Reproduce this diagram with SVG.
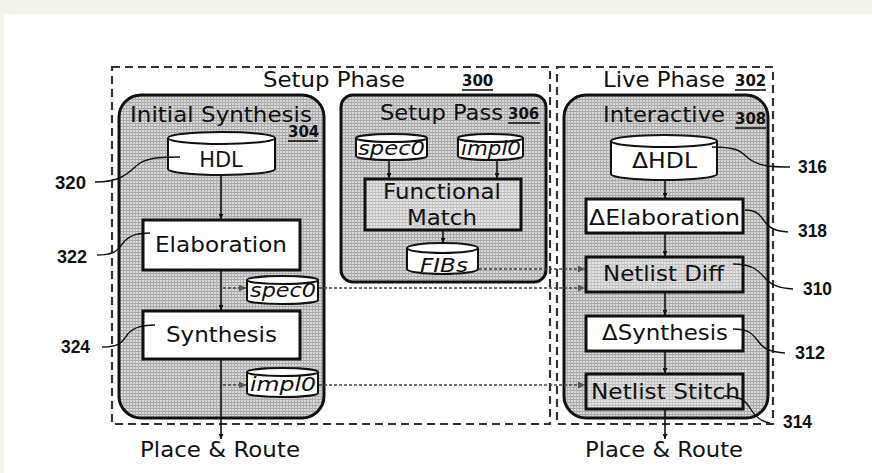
<svg xmlns="http://www.w3.org/2000/svg" width="872" height="473" viewBox="0 0 872 473">
  <defs>
    <pattern id="grid" width="3" height="3" patternUnits="userSpaceOnUse">
      <rect width="3" height="3" fill="#d8d8d8"/>
      <rect width="3" height="1" fill="#a6a6a6"/>
      <rect width="1" height="3" fill="#b0b0b0"/>
    </pattern>
    <pattern id="gridLight" width="3" height="3" patternUnits="userSpaceOnUse">
      <rect width="3" height="3" fill="#e2e2e2"/>
      <rect width="3" height="1" fill="#bdbdbd"/>
      <rect width="1" height="3" fill="#c6c6c6"/>
    </pattern>
    <marker id="arr" viewBox="0 0 10 10" refX="10" refY="5" markerWidth="5" markerHeight="5" orient="auto" markerUnits="userSpaceOnUse">
      <path d="M0,0 L10,5 L0,10 z" fill="#111"/>
    </marker>
    <marker id="arrG" viewBox="0 0 10 10" refX="10" refY="5" markerWidth="9" markerHeight="7" orient="auto" markerUnits="userSpaceOnUse">
      <path d="M0,0 L10,5 L0,10 z" fill="#555"/>
    </marker>
  </defs>
  <style>
    .t { font-family: "DejaVu Sans", "Liberation Sans", sans-serif; font-size: 21px; fill: #111; }
    .ti { font-family: "DejaVu Sans", "Liberation Sans", sans-serif; font-size: 20px; font-style: italic; fill: #111; }
    .num { font-family: "DejaVu Sans", sans-serif; font-weight: bold; font-size: 15px; fill: #111; }
    .ref { font-family: "Liberation Sans", Arial, sans-serif; font-weight: bold; font-size: 19px; fill: #111; }
    .phase { fill: none; stroke: #333; stroke-width: 2.2; stroke-dasharray: 8 5; }
    .group { fill: url(#grid); stroke: #111; stroke-width: 3; }
    .box { fill: #fff; stroke: #111; stroke-width: 3; }
    .boxg { fill: url(#gridLight); stroke: #111; stroke-width: 3; }
    .cyl { fill: #fff; stroke: #111; stroke-width: 2; }
    .flow { fill: none; stroke: #111; stroke-width: 1.6; marker-end: url(#arr); }
    .data { fill: none; stroke: #444; stroke-width: 1.6; stroke-dasharray: 3 2; marker-end: url(#arrG); }
    .lead { fill: none; stroke: #111; stroke-width: 1.4; }
    .ul { stroke: #111; stroke-width: 1.6; }
  </style>

  <!-- page frame -->
  <rect x="0" y="0" width="872" height="473" fill="#fff"/>
  <rect x="0" y="0" width="872" height="14" fill="#f3f2ea"/>
  <rect x="0" y="0" width="4" height="473" fill="#f3f2ea"/>

  <!-- phase regions -->
  <g id="setup-phase">
    <rect class="phase" x="112" y="67" width="438" height="357"/>
    <text class="t" x="263" y="87" textLength="142" lengthAdjust="spacingAndGlyphs">Setup Phase</text>
    <text class="num" x="462" y="86">300</text>
    <line class="ul" x1="462" y1="90" x2="493" y2="90"/>
  </g>
  <g id="live-phase">
    <rect class="phase" x="557" y="67" width="216" height="357"/>
    <text class="t" x="603" y="87" textLength="122" lengthAdjust="spacingAndGlyphs">Live Phase</text>
    <text class="num" x="735" y="86">302</text>
    <line class="ul" x1="735" y1="90" x2="766" y2="90"/>
  </g>

  <!-- Initial Synthesis -->
  <g id="initial-synthesis">
    <rect class="group" x="119" y="95" width="205" height="323" rx="22"/>
    <text class="t" x="130" y="122" textLength="182" lengthAdjust="spacingAndGlyphs">Initial Synthesis</text>
    <text class="num" x="288" y="137">304</text>
    <line class="ul" x1="288" y1="141" x2="318" y2="141"/>
  </g>
  <g id="hdl">
    <path class="cyl" d="M168,138 L168,169 A53.5,6 0 0 0 275,169 L275,138 A53.5,6 0 0 0 168,138 A53.5,6 0 0 0 275,138"/>
    <text class="t" x="221" y="167" text-anchor="middle">HDL</text>
  </g>
  <g id="elaboration">
    <rect class="box" x="143" y="220" width="157" height="50"/>
    <text class="t" x="155" y="252" textLength="132" lengthAdjust="spacingAndGlyphs">Elaboration</text>
  </g>
  <g id="spec0-out">
    <path class="cyl" d="M247,280 L247,300 A35.5,4 0 0 0 318,300 L318,280 A35.5,4 0 0 0 247,280 A35.5,4 0 0 0 318,280"/>
    <text class="ti" x="250" y="297" textLength="66" lengthAdjust="spacingAndGlyphs">spec0</text>
  </g>
  <g id="synthesis">
    <rect class="box" x="143" y="311" width="157" height="48"/>
    <text class="t" x="166" y="342" textLength="111" lengthAdjust="spacingAndGlyphs">Synthesis</text>
  </g>
  <g id="impl0-out">
    <path class="cyl" d="M247,372 L247,393 A35.5,4 0 0 0 318,393 L318,372 A35.5,4 0 0 0 247,372 A35.5,4 0 0 0 318,372"/>
    <text class="ti" x="250" y="391" textLength="66" lengthAdjust="spacingAndGlyphs">impl0</text>
  </g>

  <!-- Setup Pass -->
  <g id="setup-pass">
    <rect class="group" x="341" y="95" width="205" height="187" rx="12"/>
    <text class="t" x="380" y="120" textLength="123" lengthAdjust="spacingAndGlyphs">Setup Pass</text>
    <text class="num" x="508" y="119">306</text>
    <line class="ul" x1="508" y1="123" x2="540" y2="123"/>
  </g>
  <g id="spec0">
    <path class="cyl" d="M356,138 L356,156 A35.5,4 0 0 0 427,156 L427,138 A35.5,4 0 0 0 356,138 A35.5,4 0 0 0 427,138"/>
    <text class="ti" x="358" y="155" textLength="67" lengthAdjust="spacingAndGlyphs">spec0</text>
  </g>
  <g id="impl0">
    <path class="cyl" d="M458,138 L458,156 A32.5,4 0 0 0 523,156 L523,138 A32.5,4 0 0 0 458,138 A32.5,4 0 0 0 523,138"/>
    <text class="ti" x="461" y="155" textLength="60" lengthAdjust="spacingAndGlyphs">impl0</text>
  </g>
  <g id="functional-match">
    <rect class="boxg" x="365" y="179" width="156" height="51"/>
    <text class="t" x="383" y="199" textLength="118" lengthAdjust="spacingAndGlyphs">Functional</text>
    <text class="t" x="407" y="225" textLength="70" lengthAdjust="spacingAndGlyphs">Match</text>
  </g>
  <g id="fibs">
    <path class="cyl" d="M407,248 L407,269 A35.5,5 0 0 0 478,269 L478,248 A35.5,5 0 0 0 407,248 A35.5,5 0 0 0 478,248"/>
    <text class="ti" x="420" y="272" textLength="48" lengthAdjust="spacingAndGlyphs">FIBs</text>
  </g>

  <!-- Interactive -->
  <g id="interactive">
    <rect class="group" x="564" y="95" width="204" height="323" rx="22"/>
    <text class="t" x="603" y="122" textLength="122" lengthAdjust="spacingAndGlyphs">Interactive</text>
    <text class="num" x="735" y="124">308</text>
    <line class="ul" x1="735" y1="128" x2="766" y2="128"/>
  </g>
  <g id="delta-hdl">
    <path class="cyl" d="M611,141 L611,174 A53,6 0 0 0 717,174 L717,141 A53,6 0 0 0 611,141 A53,6 0 0 0 717,141"/>
    <text class="t" x="632" y="168" textLength="65" lengthAdjust="spacingAndGlyphs">ΔHDL</text>
  </g>
  <g id="delta-elaboration">
    <rect class="box" x="586" y="199" width="157" height="34"/>
    <text class="t" x="589" y="225" textLength="151" lengthAdjust="spacingAndGlyphs">ΔElaboration</text>
  </g>
  <g id="netlist-diff">
    <rect class="boxg" x="586" y="257" width="157" height="35"/>
    <text class="t" x="603" y="281" textLength="121" lengthAdjust="spacingAndGlyphs">Netlist Diff</text>
  </g>
  <g id="delta-synthesis">
    <rect class="box" x="586" y="316" width="157" height="35"/>
    <text class="t" x="602" y="340" textLength="126" lengthAdjust="spacingAndGlyphs">ΔSynthesis</text>
  </g>
  <g id="netlist-stitch">
    <rect class="boxg" x="586" y="374" width="157" height="35"/>
    <text class="t" x="591" y="399" textLength="149" lengthAdjust="spacingAndGlyphs">Netlist Stitch</text>
  </g>

  <!-- outputs -->
  <g id="place-route-left">
    <text class="t" x="140" y="457" textLength="160" lengthAdjust="spacingAndGlyphs">Place &amp; Route</text>
  </g>
  <g id="place-route-right">
    <text class="t" x="585" y="457" textLength="158" lengthAdjust="spacingAndGlyphs">Place &amp; Route</text>
  </g>

  <!-- connectors -->
  <g id="connectors">
    <line class="flow" x1="221" y1="175" x2="221" y2="219"/>
    <line class="flow" x1="221" y1="271" x2="221" y2="310"/>
    <line class="flow" x1="221" y1="360" x2="221" y2="439"/>
    <line class="data" x1="223" y1="288" x2="246" y2="288"/>
    <line class="data" x1="223" y1="385" x2="246" y2="385"/>

    <line class="flow" x1="389" y1="160" x2="389" y2="178"/>
    <line class="flow" x1="497" y1="160" x2="497" y2="178"/>
    <line class="flow" x1="443" y1="231" x2="443" y2="243"/>

    <line class="flow" x1="665" y1="180" x2="665" y2="198"/>
    <line class="flow" x1="665" y1="234" x2="665" y2="256"/>
    <line class="flow" x1="665" y1="293" x2="665" y2="315"/>
    <line class="flow" x1="665" y1="352" x2="665" y2="373"/>
    <line class="flow" x1="665" y1="410" x2="665" y2="439"/>

    <line class="data" x1="479" y1="269" x2="585" y2="269"/>
    <line class="data" x1="319" y1="288" x2="585" y2="288"/>
    <line class="data" x1="319" y1="385" x2="585" y2="385"/>
  </g>

  <!-- reference numerals -->
  <g id="ref-320">
    <path class="lead" d="M95,182 C125,182 130,170 140,163 C150,157 165,157 180,157"/>
    <text class="ref" x="55" y="189" textLength="31" lengthAdjust="spacingAndGlyphs">320</text>
  </g>
  <g id="ref-322">
    <path class="lead" d="M97,255 C115,255 118,250 123,243 C130,234 140,233 150,233"/>
    <text class="ref" x="57" y="263" textLength="30" lengthAdjust="spacingAndGlyphs">322</text>
  </g>
  <g id="ref-324">
    <path class="lead" d="M102,347 C120,347 122,342 127,335 C134,326 145,325 155,325"/>
    <text class="ref" x="61" y="353" textLength="29" lengthAdjust="spacingAndGlyphs">324</text>
  </g>
  <g id="ref-316">
    <path class="lead" d="M712,147 C735,147 740,150 748,158 C758,166 770,167 790,167"/>
    <text class="ref" x="798" y="173" textLength="29" lengthAdjust="spacingAndGlyphs">316</text>
  </g>
  <g id="ref-318">
    <path class="lead" d="M745,210 C757,210 760,215 765,222 C770,229 777,231 788,232"/>
    <text class="ref" x="798" y="237" textLength="29" lengthAdjust="spacingAndGlyphs">318</text>
  </g>
  <g id="ref-310">
    <path class="lead" d="M733,264 C752,264 758,270 765,278 C772,286 780,288 793,289"/>
    <text class="ref" x="803" y="295" textLength="29" lengthAdjust="spacingAndGlyphs">310</text>
  </g>
  <g id="ref-312">
    <path class="lead" d="M733,329 C748,329 752,333 758,341 C764,350 772,352 785,353"/>
    <text class="ref" x="795" y="359" textLength="30" lengthAdjust="spacingAndGlyphs">312</text>
  </g>
  <g id="ref-314">
    <path class="lead" d="M723,396 C740,396 745,400 750,408 C756,418 762,422 770,423"/>
    <text class="ref" x="783" y="428" textLength="29" lengthAdjust="spacingAndGlyphs">314</text>
  </g>
</svg>
